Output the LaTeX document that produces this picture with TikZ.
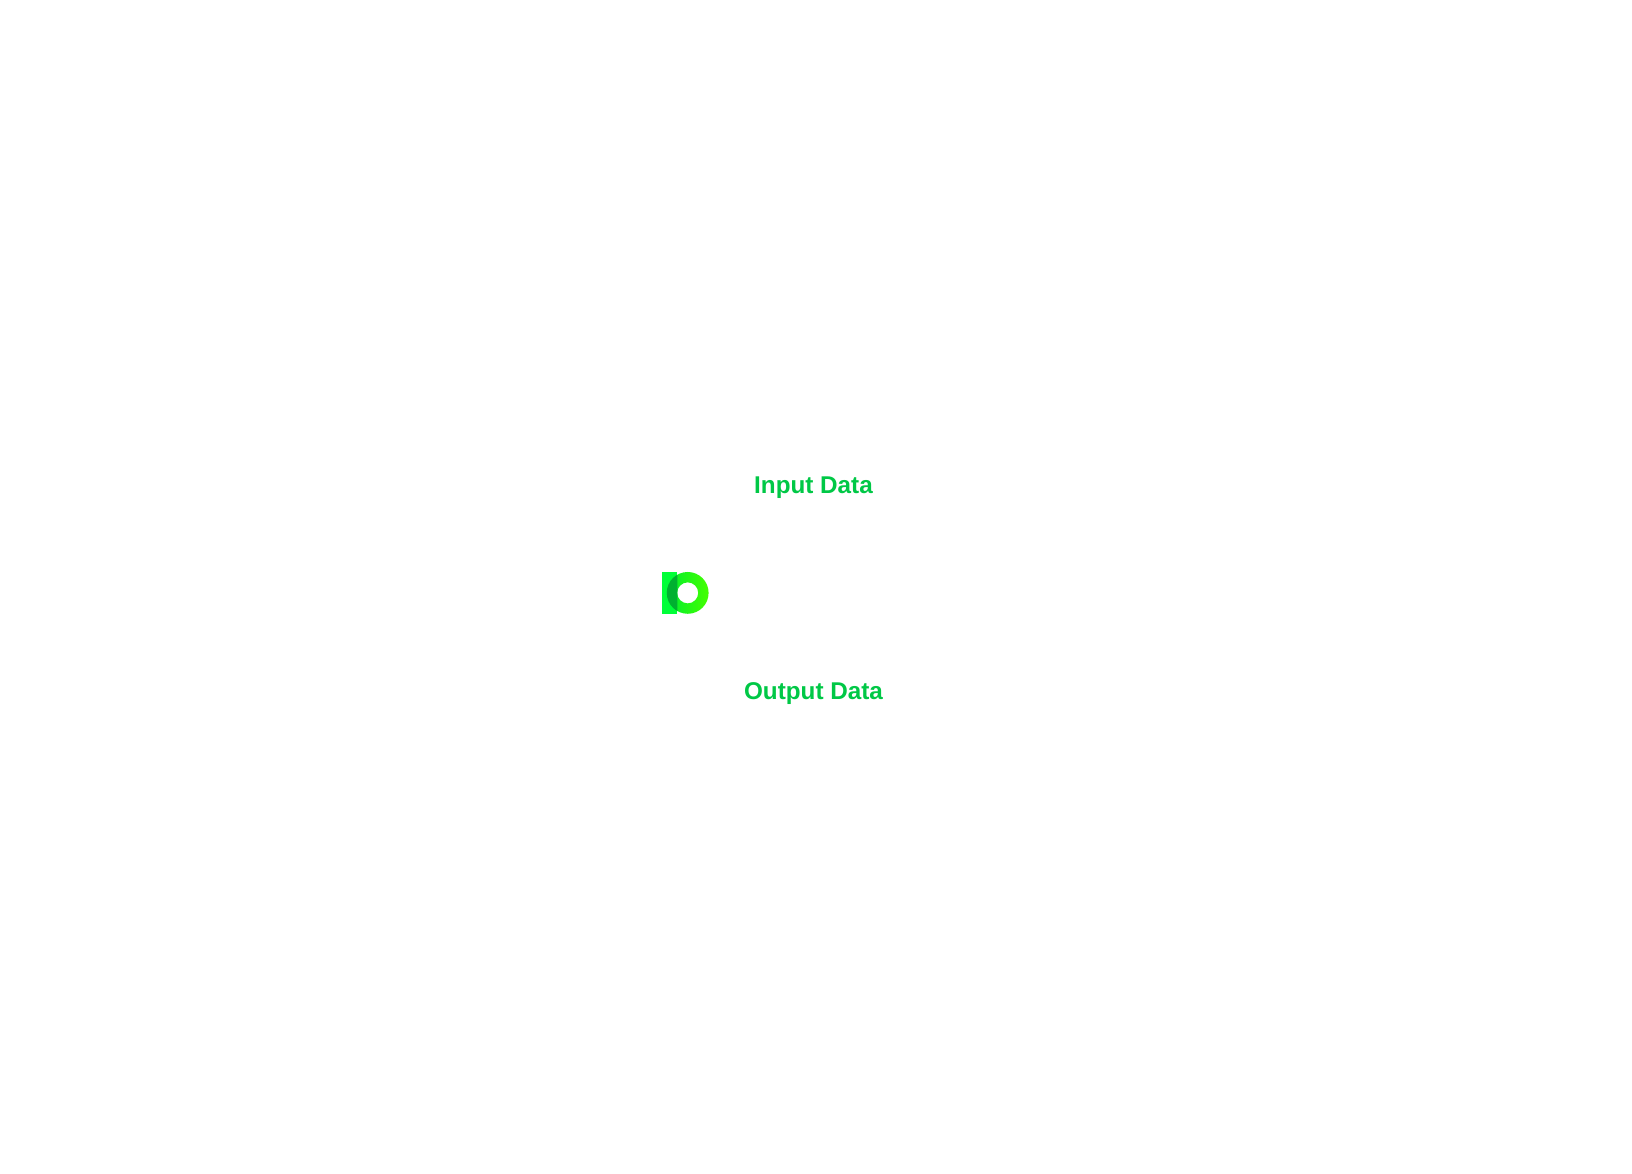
\documentclass[tikz,border=0pt]{standalone}
\usepackage{fontspec}
\setmainfont{Liberation Sans}
\definecolor{labelgreen}{HTML}{00C846}
\definecolor{barlime}{HTML}{00FF38}
\definecolor{ringleft}{HTML}{00EE30}
\definecolor{ringmid}{HTML}{00F018}
\definecolor{ringright}{HTML}{44FF00}
\definecolor{overlapgreen}{HTML}{00B030}
\tikzset{datalabel/.style={anchor=base, text=labelgreen, inner sep=0pt, font=\fontsize{13.8pt}{16pt}\selectfont\bfseries}}

\begin{document}
\begin{tikzpicture}
\useasboundingbox (0,0) rectangle (32.64,23.48);
\fill[white] (0,0) rectangle (32.64,23.48);
\node[datalabel] (input) at (16.27,13.614) {Input Data};
\node[datalabel] (output) at (16.27,9.49) {Output Data};
%logo
\coordinate (ringc) at (13.754,11.622);
\fill[barlime] (13.24,11.206) rectangle (13.546,12.04);
\shade[left color=ringleft, middle color=ringmid, right color=ringright, even odd rule] (ringc) circle (0.418) (ringc) circle (0.21);
\begin{scope}
\clip (13.24,11.206) rectangle (13.546,12.04);
\fill[overlapgreen, even odd rule] (ringc) circle (0.418) (ringc) circle (0.21);
\end{scope}
\end{tikzpicture}
\end{document}
